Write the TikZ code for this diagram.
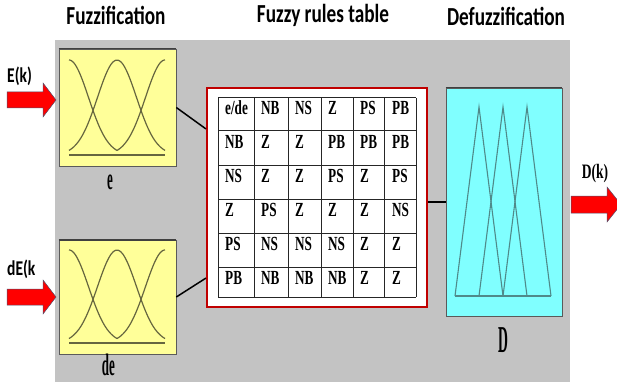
\documentclass[tikz,border=0pt]{standalone}
\usepackage{fontspec}
\usetikzlibrary{calc}
\newfontfamily\headfont[FakeStretch=0.74]{Carlito}
\newfontfamily\cellfont[FakeStretch=0.66]{Liberation Serif}
\newfontfamily\varfont[FakeStretch=0.42]{Liberation Serif}
\newfontfamily\outfont[FakeStretch=0.36]{Liberation Serif}
\definecolor{panel}{HTML}{C3C3C3}
\definecolor{mfyellow}{HTML}{FFFF99}
\definecolor{mfcyan}{HTML}{80FFFF}
\definecolor{mfcurve}{HTML}{66663F}
\definecolor{mftri}{HTML}{4F8A8A}
\definecolor{rulered}{HTML}{C00000}
\definecolor{sigred}{HTML}{FF0000}
\definecolor{sigedge}{HTML}{50506E}
\definecolor{boxedge}{HTML}{5A5A5A}
\tikzset{
  title/.style={font=\headfont\bfseries\fontsize{26}{30}\selectfont, anchor=base, inner sep=0pt},
  siglbl/.style={font=\headfont\bfseries\fontsize{21}{24}\selectfont, anchor=base west, inner sep=0pt},
  varlbl/.style={font=\varfont\bfseries\fontsize{31}{34}\selectfont, anchor=base, inner sep=0pt},
  outlbl/.style={font=\cellfont\bfseries\fontsize{20.5}{24}\selectfont, anchor=base, inner sep=0pt},
  cell/.style={font=\cellfont\bfseries\fontsize{20}{22}\selectfont, anchor=base west, inner sep=0pt},
  fuzzbox/.style={draw=boxedge, fill=mfyellow, line width=0.6pt, minimum width=117pt, inner sep=0pt},
  defbox/.style={draw=boxedge, fill=mfcyan, line width=0.6pt, minimum width=116pt, minimum height=228pt, inner sep=0pt},
  rulebox/.style={draw=rulered, fill=white, line width=2.2pt, inner sep=0pt},
  topedge/.style={draw=black!75, line width=1.6pt},
  mfline/.style={draw=mfcurve, line width=1.2pt},
  triline/.style={draw=mftri, line width=1.1pt},
  gridline/.style={draw=black!85, line width=1pt},
  link/.style={draw=black, line width=1.5pt},
  sigarrow/.style={fill=sigred, draw=sigedge, line width=0.5pt}
}
\begin{document}
\begin{tikzpicture}[x=1pt, y=-1pt]
  \useasboundingbox (0,0) rectangle (617,382);
  \clip (0,0) rectangle (617,382);

  % background panel
  \fill[panel] (55,40) rectangle (570,382);

  % titles
  \node[title] (ttl-fuzz) at (116,25) {Fuzzification};
  \node[title] (ttl-rules) at (323,23) {Fuzzy rules table};
  \node[title] (ttl-defuzz) at (506,26) {Defuzzification};

  % fuzzification blocks
  \node[fuzzbox, minimum height=117pt] (ebox) at (117.5,107.5) {};
  \node[fuzzbox, minimum height=114pt] (debox) at (117.5,297) {};
  \draw[topedge] (ebox.north west) -- (ebox.north east);
  \draw[topedge] (debox.north west) -- (debox.north east);
  \foreach \yb/\yp in {155/60, 343/250} {
    \foreach \c/\a/\b in {69/69/117, 117/69/165, 165/117/165}
      \draw[mfline] plot[domain=\a:\b, samples=40, smooth]
        (\x, {\yb-(\yb-\yp)*exp(-((\x-\c)*(\x-\c))/760)});
    \draw[mfline] (69,\yb) -- (165,\yb);
  }
  \node[varlbl] (lbl-e) at (110,189) {e};
  \node[varlbl] (lbl-de) at (108.5,375) {de};

  % inputs
  \filldraw[sigarrow] (7,92) -- (43,92) -- (43,83) -- (56,100) -- (43,117) -- (43,108) -- (7,108) -- cycle;
  \filldraw[sigarrow] (7,289) -- (43,289) -- (43,280) -- (56,297) -- (43,314) -- (43,305) -- (7,305) -- cycle;
  \node[siglbl] (in-e) at (7,83) {E(k)};
  \node[siglbl] (in-de) at (7,275) {dE(k};

  % rules table
  \node[rulebox, minimum width=220pt, minimum height=219pt] (rules) at (317,197.5) {};
  \foreach \x in {218,254,288,321,353,384,416}
    \draw[gridline] (\x,98) -- (\x,297);
  \foreach \y in {98,131,165,199,233,267,297}
    \draw[gridline] (218,\y) -- (416,\y);
  \foreach \row [count=\i] in {{e/de,NB,NS,Z,PS,PB},{NB,Z,Z,PB,PB,PB},{NS,Z,Z,PS,Z,PS},
                               {Z,PS,Z,Z,Z,NS},{PS,NS,NS,NS,Z,Z},{PB,NB,NB,NB,Z,Z}} {
    \pgfmathsetmacro{\cy}{{115,148,182,216,250,284}[\i-1]}
    \foreach \t [count=\j] in \row {
      \pgfmathsetmacro{\cx}{{225,261,295,328,360,392}[\j-1]}
      \node[cell] (c-\i-\j) at (\cx,\cy) {\t};
    }
  }

  % defuzzification block
  \node[defbox] (dbox) at (504,202) {};
  \draw[topedge] (dbox.north west) -- (dbox.north east);
  \foreach \p in {479,503,527}
    \draw[triline] (\p-24,296) -- (\p,107) -- (\p+24,296);
  \draw[triline] (455,296) -- (551,296);
  \node[font=\outfont\bfseries\fontsize{38}{42}\selectfont, anchor=base, inner sep=0pt] (lbl-d) at (503,352) {D};

  % links
  \draw[link] (ebox.east) -- ([yshift=-42pt]rules.north west);
  \draw[link] (debox.east) -- ([yshift=30pt]rules.south west);
  \draw[link] (rules.east |- dbox.west) -- (dbox.west);

  % output
  \filldraw[sigarrow] (571,196) -- (607,196) -- (607,187) -- (621,204.5) -- (607,222) -- (607,213) -- (571,213) -- cycle;
  \node[outlbl] (out-d) at (595,178) {D(k)};
\end{tikzpicture}
\end{document}
